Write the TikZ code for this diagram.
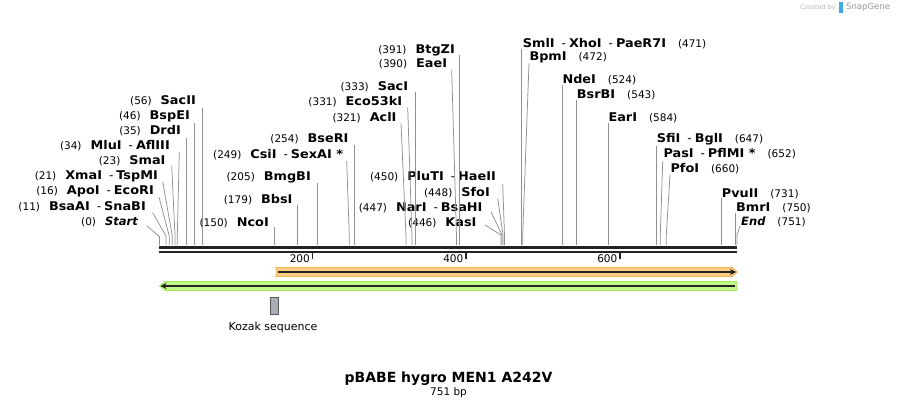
\documentclass[tikz,border=0pt]{standalone}
\usepackage{fontspec}
\setmainfont{DejaVu Sans}
\newfontfamily\labfont{DejaVu Sans}[BoldFeatures={FakeStretch=1.07}]
\usetikzlibrary{arrows.meta}
\definecolor{cutline}{RGB}{145,145,145}
\definecolor{dnacol}{RGB}{34,34,34}
\definecolor{orfill}{RGB}{251,205,128}
\definecolor{ordraw}{RGB}{242,178,84}
\definecolor{grfill}{RGB}{196,246,136}
\definecolor{grdraw}{RGB}{160,232,100}
\definecolor{kozakfill}{RGB}{168,172,180}
\definecolor{sgblue}{RGB}{60,170,230}
\newcommand\nf{\fontsize{10.5}{12}\selectfont\mdseries}
\newcommand\itf{\fontsize{11.5}{14}\selectfont\itshape}
\newcommand\dsh{\hspace{7pt}{\mdseries -}\hspace{3pt}}
\newcommand\lgap{\hspace{9pt}}
\newcommand\rgap{\hspace{12pt}}
\newcommand\cutv[3]{\coordinate (#1-a) at (#2,#3); \coordinate (#1-b) at (#2,245); \draw[cut] (#1-a) -- (#1-b);}
\newcommand\cuta[5]{\coordinate (#1-a) at (#2,#3); \coordinate (#1-b) at (#4,#5); \coordinate (#1-c) at (#4,245); \draw[cut] (#1-a) -- (#1-b) -- (#1-c);}
\begin{document}
\begin{tikzpicture}[x=1pt,y=-1pt,
  lab/.style={inner sep=0pt, font=\labfont\fontsize{12}{14}\selectfont\bfseries},
  labl/.style={lab, anchor=base east},
  labr/.style={lab, anchor=base west},
  cut/.style={draw=cutline, line width=0.75pt},
  ticklab/.style={inner sep=0pt, anchor=east, font=\fontsize{10.5}{12}\selectfont},
  tickmark/.style={draw=dnacol, line width=1.5pt}]
\path[fill=white, use as bounding box] (0,0) rectangle (897,409);

% logo
\node[inner sep=0pt, anchor=east, text=black!28, font=\fontsize{6.5}{7}\selectfont] (cby) at (836,7.5) {Created by};
\node[inner sep=0pt, anchor=west, text=black!40, font=\fontsize{8.5}{9}\selectfont] (sg) at (846,7.5) {SnapGene};
\fill[sgblue] (838.5,2) rectangle (842.5,13);

% DNA
\coordinate (dl) at (159,247.5);
\coordinate (dr) at (737,247.5);
\coordinate (bl) at (159,251.5);
\coordinate (br) at (737,251.5);
\draw[dnacol, line width=3pt] (dl) -- (dr);
\draw[dnacol, line width=2pt] (bl) -- (br);

% ticks
\coordinate (t200a) at (312.5,252.5); \coordinate (t200b) at (312.5,259);
\coordinate (t400a) at (466,252.5); \coordinate (t400b) at (466,259);
\coordinate (t600a) at (620,252.5); \coordinate (t600b) at (620,259);
\draw[tickmark] (t200a) -- (t200b);
\draw[tickmark] (t400a) -- (t400b);
\draw[tickmark] (t600a) -- (t600b);
\node[ticklab] (l200) at (310,258.5) {200};
\node[ticklab] (l400) at (463.5,258.5) {400};
\node[ticklab] (l600) at (617.5,258.5) {600};

% features
\fill[orfill, draw=ordraw, line width=0.8pt] (276,267.5) -- (732,267.5) -- (737.5,272) -- (732,276.5) -- (276,276.5) -- cycle;
\coordinate (oa) at (278,272); \coordinate (ob) at (736,272);
\draw[dnacol, line width=1.8pt, -{Stealth[length=6pt,width=6pt]}] (oa) -- (ob);
\fill[grfill, draw=grdraw, line width=0.8pt] (165,281.5) -- (737,281.5) -- (737,290.5) -- (165,290.5) -- (159.5,286) -- cycle;
\coordinate (ga) at (735,286); \coordinate (gb) at (160.5,286);
\draw[dnacol, line width=1.8pt, -{Stealth[length=6pt,width=6pt]}] (ga) -- (gb);
\draw[fill=kozakfill, draw=black!65, line width=0.8pt] (270,297.5) rectangle (278,314);
\node[inner sep=0pt, font=\fontsize{11}{13}\selectfont] (kozak) at (273,327.5) {Kozak sequence};

% title
\node[inner sep=0pt, font=\fontsize{14}{16}\selectfont\bfseries] (title) at (448.5,379) {pBABE hygro MEN1 A242V};
\node[inner sep=0pt, font=\fontsize{10.5}{12}\selectfont] (len) at (448.5,393) {751 bp};

% left labels
\node[labl] (start) at (138,225.3) {{\nf (0)}\lgap{\itf Start}};
\node[labl] (bsaai) at (146,210.3) {{\nf (11)}\lgap BsaAI\dsh SnaBI};
\node[labl] (apoi) at (154,194.3) {{\nf (16)}\lgap ApoI\dsh EcoRI};
\node[labl] (xmai) at (158,179.3) {{\nf (21)}\lgap XmaI\dsh TspMI};
\node[labl] (smai) at (165.7,164.3) {{\nf (23)}\lgap SmaI};
\node[labl] (mlui) at (170,149.3) {{\nf (34)}\lgap MluI\dsh AflIII};
\node[labl] (drdi) at (181,134.3) {{\nf (35)}\lgap DrdI};
\node[labl] (bspei) at (190,119.3) {{\nf (46)}\lgap BspEI};
\node[labl] (sacii) at (196,104.3) {{\nf (56)}\lgap SacII};
\node[labl] (ncoi) at (269,226) {{\nf (150)}\lgap NcoI};
\node[labl] (bbsi) at (292.7,203.3) {{\nf (179)}\lgap BbsI};
\node[labl] (bmgbi) at (311,181) {{\nf (205)}\lgap BmgBI};
\node[labl] (csii) at (343.3,158.3) {{\nf (249)}\lgap CsiI\dsh SexAI *};
\node[labl] (bseri) at (348.7,142.6) {{\nf (254)}\lgap BseRI};
\node[labl] (acli) at (396.7,121.6) {{\nf (321)}\lgap AclI};
\node[labl] (eco) at (402.3,105.3) {{\nf (331)}\lgap Eco53kI};
\node[labl] (saci) at (408.3,91) {{\nf (333)}\lgap SacI};
\node[labl] (btgzi) at (455,53.3) {{\nf (391)}\lgap BtgZI};
\node[labl] (eaei) at (447.3,67.6) {{\nf (390)}\lgap EaeI};
\node[labl] (pluti) at (496,181) {{\nf (450)}\lgap PluTI\dsh HaeII};
\node[labl] (sfoi) at (490,196.6) {{\nf (448)}\lgap SfoI};
\node[labl] (nari) at (482.7,211) {{\nf (447)}\lgap NarI\dsh BsaHI};
\node[labl] (kasi) at (476.7,226) {{\nf (446)}\lgap KasI};

% right labels
\node[labr] (smli) at (522.7,47.6) {SmlI\dsh XhoI\dsh PaeR7I\rgap{\nf (471)}};
\node[labr] (bpmi) at (529.3,61) {BpmI\rgap{\nf (472)}};
\node[labr] (ndei) at (562.3,83.6) {NdeI\rgap{\nf (524)}};
\node[labr] (bsrbi) at (576.7,98.3) {BsrBI\rgap{\nf (543)}};
\node[labr] (eari) at (608.3,121.6) {EarI\rgap{\nf (584)}};
\node[labr] (sfii) at (656.7,142.6) {SfiI\dsh BglI\rgap{\nf (647)}};
\node[labr] (pasi) at (663.3,157.6) {PasI\dsh PflMI *\rgap{\nf (652)}};
\node[labr] (pfoi) at (670.3,172.6) {PfoI\rgap{\nf (660)}};
\node[labr] (pvuii) at (721.7,197.6) {PvuII\rgap{\nf (731)}};
\node[labr] (bmri) at (736,211.6) {BmrI\rgap{\nf (750)}};
\node[labr] (endl) at (741,225.3) {{\itf End}\rgap{\nf (751)}};

% cut lines
\cuta{c-start}{146.7}{225.7}{159.5}{236.7}
\cuta{c-bsaai}{152.7}{212.7}{166}{236}
\cuta{c-apoi}{159}{197.3}{169.3}{236}
\cuta{c-xmai}{162.7}{181.7}{172.3}{236}
\cuta{c-smai}{171.7}{166}{175}{236}
\cuta{c-mlui}{179.3}{151.7}{177.3}{236}
\cutv{c-drdi}{186}{137.7}
\cutv{c-bspei}{194.3}{123.3}
\cutv{c-sacii}{202.3}{108.3}
\cutv{c-ncoi}{274.5}{227}
\cutv{c-bbsi}{297.3}{205}
\cutv{c-bmgbi}{317.3}{183.3}
\cuta{c-csii}{346.7}{161}{349.3}{236.7}
\cutv{c-bseri}{354.3}{145}
\cuta{c-acli}{401}{123.3}{406}{236.7}
\cuta{c-eco}{407.7}{107.3}{412}{236.7}
\cutv{c-saci}{415.5}{92}
\cutv{c-btgzi}{459.3}{55}
\cuta{c-eaei}{451.7}{70}{456.5}{236.7}
\cuta{c-pluti}{502.7}{184}{504.5}{235}
\cuta{c-sfoi}{497.7}{198.3}{503}{235}
\cuta{c-nari}{491}{211.7}{502}{235}
\cuta{c-kasi}{485}{225}{501}{235}
\cutv{c-smli}{521.7}{49}
\cuta{c-bpmi}{529}{63.3}{522.7}{235}
\cutv{c-ndei}{562.3}{85}
\cutv{c-bsrbi}{576.7}{100}
\cutv{c-eari}{608.3}{123.3}
\cutv{c-sfii}{656.7}{146}
\cuta{c-pasi}{662.7}{161}{660.3}{235}
\cuta{c-pfoi}{670}{175}{666.3}{235}
\cutv{c-pvuii}{721.7}{198.3}
\cutv{c-bmri}{735.7}{213.3}
\cuta{c-end}{740}{226}{737}{235}
\end{tikzpicture}
\end{document}
